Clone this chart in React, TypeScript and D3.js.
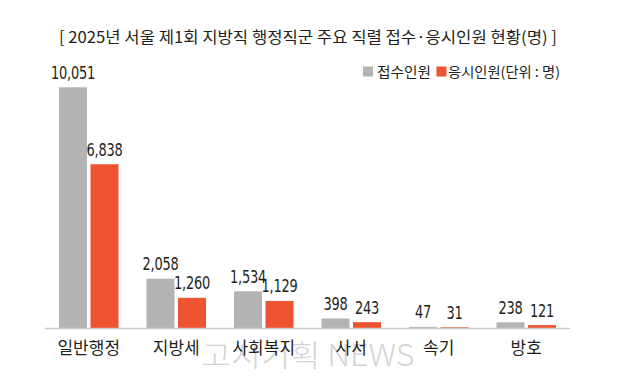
import React from "react";
import * as d3 from "d3";

const categories = ["일반행정", "지방세", "사회복지", "사서", "속기", "방호"];
const applicants = [10051, 2058, 1534, 398, 47, 238];
const examinees = [6838, 1260, 1129, 243, 31, 121];
const seriesNames = ["접수인원", "응시인원(단위 : 명)"];
const title = "[ 2025년 서울 제1회 지방직 행정직군 주요 직렬 접수·응시인원 현황(명) ]";
const watermark = "고시기획 NEWS";

const W = 625;
const H = 378;
const GRAY = "#b4b4b4";
const ORANGE = "#ee5332";
const TEXT = "#231f20";
const KR = "'Noto Sans CJK KR', 'Noto Sans', sans-serif";
const NUM = "'Liberation Sans Narrow', 'DejaVu Sans Condensed', 'Roboto', sans-serif";

export default function App() {
  const baseY = 328;
  const x0 = d3.scaleBand<string>().domain(categories).range([45, 570]).paddingInner(0).paddingOuter(0);
  const x1 = d3.scaleBand<string>().domain(["a", "b"]).range([0, x0.bandwidth()]).paddingInner(0.111).paddingOuter(0.444);
  const y = d3.scaleLinear().domain([0, 10051]).range([baseY, 87.3]);
  const fmt = d3.format(",");
  const series = [
    { key: "a", values: applicants, color: GRAY },
    { key: "b", values: examinees, color: ORANGE },
  ];

  return (
    <svg width={W} height={H} style={{ position: "absolute", left: 0, top: 0, background: "#fff" }}>
      <rect width={W} height={H} fill="#fff" />
      <text x={308} y={43} textAnchor="middle" fontFamily={KR} fontSize={16} fill={TEXT}
        textLength={498} lengthAdjust="spacingAndGlyphs">{title}</text>

      {/* legend */}
      <rect x={363} y={66.5} width={10} height={10} fill={GRAY} />
      <text x={377} y={76.5} fontFamily={KR} fontSize={14} fill={TEXT} textLength={54} lengthAdjust="spacingAndGlyphs">{seriesNames[0]}</text>
      <rect x={436.5} y={66.5} width={10} height={10} fill={ORANGE} />
      <text x={448} y={76.5} fontFamily={KR} fontSize={14} fill={TEXT} textLength={112} lengthAdjust="spacingAndGlyphs">{seriesNames[1]}</text>

      {/* watermark */}
      <text x={308} y={366} textAnchor="middle" fontFamily={KR} fontWeight={300} fontSize={30} fill="#d4d4d4"
        textLength={213} lengthAdjust="spacingAndGlyphs">{watermark}</text>

      {categories.map((c, i) => (
        <g key={c} transform={`translate(${x0(c)},0)`}>
          {series.map((s) => {
            const v = s.values[i];
            const bx = x1(s.key)!;
            const bw = x1.bandwidth();
            return (
              <g key={s.key}>
                <rect x={bx} y={y(v)} width={bw} height={baseY - y(v)} fill={s.color} />
                <g transform={`translate(${bx + bw / 2},${y(v) - 8.5}) scale(0.8,1)`}>
                  <text x={0} y={0} textAnchor="middle" fontFamily={NUM} fontSize={18}
                    letterSpacing={-0.3} fill={TEXT}>{fmt(v)}</text>
                </g>
              </g>
            );
          })}
          <text x={x0.bandwidth() / 2} y={354} textAnchor="middle" fontFamily={KR} fontSize={17} fill={TEXT}>{c}</text>
        </g>
      ))}

      <line x1={45} x2={570} y1={baseY + 0.5} y2={baseY + 0.5} stroke="#c9c9c9" strokeWidth={1.5} />
    </svg>
  );
}
